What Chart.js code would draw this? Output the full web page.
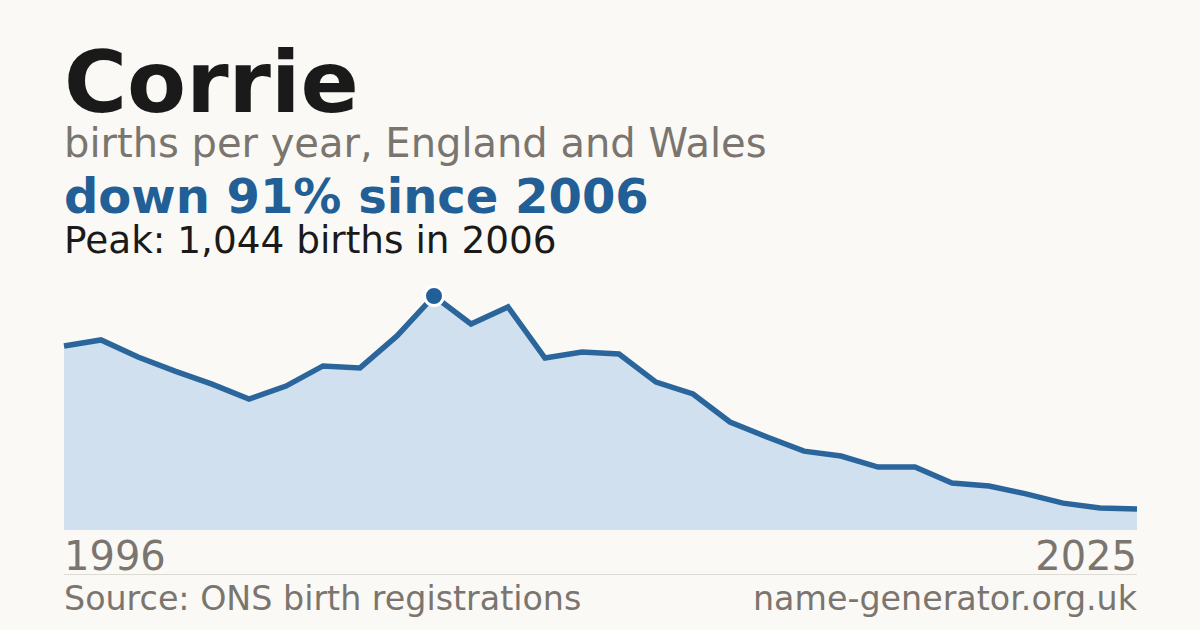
<!DOCTYPE html>
<html>
<head>
<meta charset="utf-8">
<script src="https://cdn.jsdelivr.net/npm/chart.js@4"></script>
<style>
  html, body { margin:0; padding:0; }
  body { width:1200px; height:630px; background:#faf9f5; position:relative; overflow:hidden;
         font-family:"DejaVu Sans", sans-serif; }
  .t { position:absolute; left:64px; line-height:1; white-space:nowrap; }
  #title { top:39px; font-size:86px; font-weight:bold; color:#1a1a1a; }
  #sub { top:123px; font-size:40px; color:#7a756e; }
  #headline { top:172px; font-size:48px; font-weight:bold; color:#215f96; }
  #peak { top:222px; font-size:37.4px; color:#1a1a1a; }
  #y0 { top:536px; font-size:40px; color:#7a756e; }
  #y1 { top:536px; font-size:40px; color:#7a756e; left:auto; right:63px; }
  #rule { position:absolute; left:64px; top:574px; width:1073px; height:1px; background:#dddad4; }
  #src { top:582px; font-size:33.3px; color:#7a756e; }
  #site { top:582px; font-size:33.3px; color:#7a756e; left:auto; right:63px; }
  #wrap { position:absolute; left:54px; top:260px; width:1093px; height:272px; }
</style>
</head>
<body>
<div class="t" id="title">Corrie</div>
<div class="t" id="sub">births per year, England and Wales</div>
<div class="t" id="headline">down 91% since 2006</div>
<div class="t" id="peak">Peak: 1,044 births in 2006</div>
<div id="wrap"><canvas id="c"></canvas></div>
<div class="t" id="y0">1996</div>
<div class="t" id="y1">2025</div>
<div id="rule"></div>
<div class="t" id="src">Source: ONS birth registrations</div>
<div class="t" id="site">name-generator.org.uk</div>
<script>
const years = [1996,1997,1998,1999,2000,2001,2002,2003,2004,2005,2006,2007,2008,2009,2010,
               2011,2012,2013,2014,2015,2016,2017,2018,2019,2020,2021,2022,2023,2024,2025];
const births = [821,848,772,709,651,584,642,732,723,866,1044,919,995,767,794,
                785,660,607,482,415,352,330,281,281,210,196,161,120,98,94];
const peakYear = 2006;
const yMax = 1160;

const peakIdx = years.indexOf(peakYear);
const radii = births.map((v,i) => i === peakIdx ? 9.5 : 0);

new Chart(document.getElementById('c'), {
  type: 'line',
  data: {
    labels: years.map(String),
    datasets: [{
      data: births,
      borderColor: '#2a669c',
      borderWidth: 5.5,
      backgroundColor: '#d0e0ef',
      fill: 'origin',
      tension: 0,
      pointRadius: radii,
      pointHoverRadius: radii,
      pointBackgroundColor: '#215f96',
      pointBorderColor: '#ffffff',
      pointBorderWidth: 3,
      clip: false
    }]
  },
  options: {
    responsive: true,
    maintainAspectRatio: false,
    animation: false,
    events: [],
    layout: { padding: { left: 10, right: 10, top: 10, bottom: 2 } },
    plugins: { legend: { display: false }, tooltip: { enabled: false } },
    scales: {
      x: { display: false, offset: false },
      y: { display: false, min: 0, max: yMax }
    }
  }
});
</script>
</body>
</html>
